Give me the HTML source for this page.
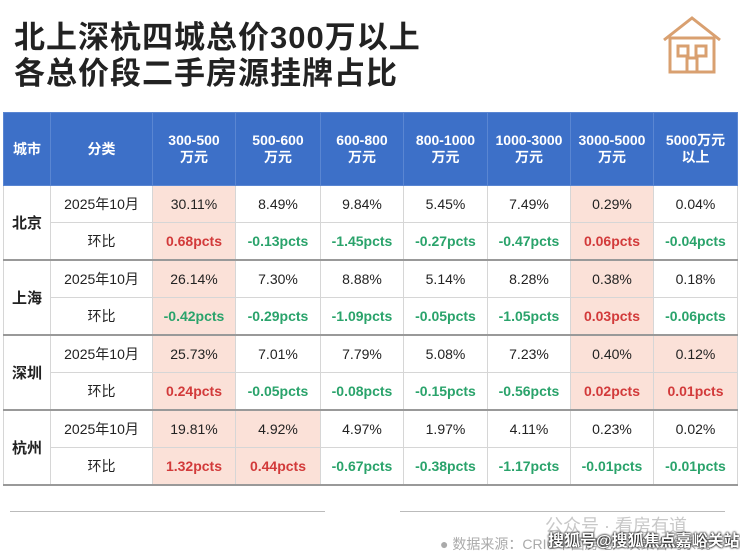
<!DOCTYPE html>
<html><head><meta charset="utf-8"><style>
body{margin:0;width:740px;height:553px;background:#fff;font-family:"Liberation Sans","Noto Sans CJK SC",sans-serif;position:relative;overflow:hidden}
.t{position:absolute;left:14px;font-weight:bold;font-size:31px;color:#222;line-height:36px;letter-spacing:1px;white-space:nowrap}
table{position:absolute;left:3px;top:112px;border-collapse:collapse;width:734px;table-layout:fixed}
td,th{text-align:center;font-size:14px;border:1px solid #d6d6d6;padding:0;color:#222}
th{background:#3d70c8;color:#fff;font-weight:bold;height:72px;border-color:#5a86d2;font-size:14px;line-height:17px}
td{height:36px}
.c{font-weight:bold;font-size:15px}
.r{color:#d23a3a;font-weight:bold}.g{color:#2aa36b;font-weight:bold}
.p{background:#fbe1d8}
.bt td{border-top:2px solid #999}
</style></head><body>
<div class="t" style="top:20px">北上深杭四城总价300万以上</div>
<div class="t" style="top:56px">各总价段二手房源挂牌占比</div>
<svg style="position:absolute;left:660px;top:14px" width="64" height="62" viewBox="0 0 64 62"><g fill="none" stroke="#d9a070" stroke-width="3"><path d="M4 26 L32 4 L60 26"/><rect x="10" y="24" width="44" height="34"/><rect x="18" y="32" width="10" height="10"/><rect x="36" y="32" width="10" height="10"/><rect x="27" y="44" width="10" height="14"/></g></svg>
<table>
<colgroup><col style="width:47px"><col style="width:102px"><col style="width:83px"><col style="width:85px"><col style="width:83px"><col style="width:84px"><col style="width:83px"><col style="width:83px"><col style="width:84px"></colgroup>
<tr><th>城市</th><th>分类</th><th>300-500<br>万元</th><th>500-600<br>万元</th><th>600-800<br>万元</th><th>800-1000<br>万元</th><th>1000-3000<br>万元</th><th>3000-5000<br>万元</th><th>5000万元<br>以上</th></tr>
<tr><td rowspan="2" class="c">北京</td><td>2025年10月</td><td class="p">30.11%</td><td>8.49%</td><td>9.84%</td><td>5.45%</td><td>7.49%</td><td class="p">0.29%</td><td>0.04%</td></tr>
<tr><td>环比</td><td class="p r">0.68pcts</td><td class="g">-0.13pcts</td><td class="g">-1.45pcts</td><td class="g">-0.27pcts</td><td class="g">-0.47pcts</td><td class="p r">0.06pcts</td><td class="g">-0.04pcts</td></tr>
<tr class="bt"><td rowspan="2" class="c">上海</td><td>2025年10月</td><td class="p">26.14%</td><td>7.30%</td><td>8.88%</td><td>5.14%</td><td>8.28%</td><td class="p">0.38%</td><td>0.18%</td></tr>
<tr><td>环比</td><td class="g p">-0.42pcts</td><td class="g">-0.29pcts</td><td class="g">-1.09pcts</td><td class="g">-0.05pcts</td><td class="g">-1.05pcts</td><td class="p r">0.03pcts</td><td class="g">-0.06pcts</td></tr>
<tr class="bt"><td rowspan="2" class="c">深圳</td><td>2025年10月</td><td class="p">25.73%</td><td>7.01%</td><td>7.79%</td><td>5.08%</td><td>7.23%</td><td class="p">0.40%</td><td class="p">0.12%</td></tr>
<tr><td>环比</td><td class="p r">0.24pcts</td><td class="g">-0.05pcts</td><td class="g">-0.08pcts</td><td class="g">-0.15pcts</td><td class="g">-0.56pcts</td><td class="p r">0.02pcts</td><td class="p r">0.01pcts</td></tr>
<tr class="bt"><td rowspan="2" class="c">杭州</td><td>2025年10月</td><td class="p">19.81%</td><td class="p">4.92%</td><td>4.97%</td><td>1.97%</td><td>4.11%</td><td>0.23%</td><td>0.02%</td></tr>
<tr style="border-bottom:2px solid #999"><td>环比</td><td class="p r">1.32pcts</td><td class="p r">0.44pcts</td><td class="g">-0.67pcts</td><td class="g">-0.38pcts</td><td class="g">-1.17pcts</td><td class="g">-0.01pcts</td><td class="g">-0.01pcts</td></tr>
</table>
<div style="position:absolute;left:10px;top:511px;width:315px;border-top:1px solid #bbb"></div>
<div style="position:absolute;left:400px;top:511px;width:325px;border-top:1px solid #bbb"></div>
<div style="position:absolute;left:545px;top:512px;font-size:18px;color:#c8c8c8;white-space:nowrap">公众号 · 看房有道</div>
<div style="position:absolute;left:440px;top:534px;font-size:14px;color:#aaa;white-space:nowrap">● 数据来源：CRIC中国房地产决策咨询系统</div>
<div style="position:absolute;left:548px;top:527px;font-size:16px;color:#fff;font-weight:bold;white-space:nowrap;text-shadow:0 0 2px #000,0 0 2px #000">搜狐号@搜狐焦点嘉峪关站</div>
</body></html>
